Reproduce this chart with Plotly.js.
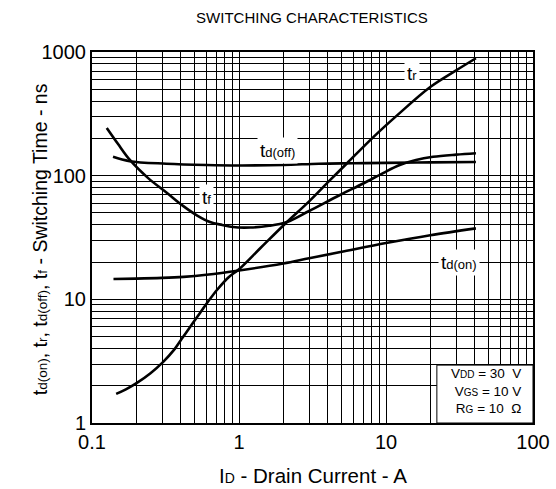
<!DOCTYPE html>
<html><head><meta charset="utf-8">
<script src="https://cdn.plot.ly/plotly-3.0.1.min.js"></script>
<style>body{margin:0;background:#fff}#c{width:556px;height:489px}</style>
</head><body><div id="c"></div>
<script>
// Data
const tdOnX  = [0.14, 0.2, 0.3, 0.42, 0.6, 1, 2, 3, 4.9, 10, 20, 40.9];
const tdOnY  = [14.6, 14.7, 14.9, 15.2, 15.8, 17.1, 19.5, 21.5, 24.1, 28.5, 33, 37.5];
const trX    = [0.146, 0.17, 0.202, 0.25, 0.304, 0.36, 0.416, 0.48, 0.543, 0.62, 0.708, 0.85, 1, 1.4, 2.12, 3, 4.16, 5.43, 8.2, 12, 20, 30, 40.9];
const trY    = [1.72, 1.87, 2.11, 2.53, 3.11, 3.88, 4.96, 6.31, 7.75, 9.68, 11.9, 15.1, 17.5, 26, 42.2, 62, 92, 126, 205, 310, 521, 710, 890];
const tdOffX = [0.139, 0.18, 0.32, 0.6, 1, 2, 3.5, 6, 10, 20, 40.9];
const tdOffY = [142, 131, 125, 122, 121, 122, 125, 126, 127, 128, 129];
const tfX    = [0.126, 0.15, 0.181, 0.24, 0.324, 0.416, 0.52, 0.635, 0.77, 0.91, 1.19, 1.6, 2.12, 3, 4.86, 7, 9.55, 12.4, 16, 20.9, 30, 40.9];
const tfY    = [243, 181, 134, 96, 72.4, 57, 47.6, 42.2, 39.9, 38.4, 38.1, 39.3, 42.2, 51.8, 69.8, 86.4, 105, 122, 134, 142, 148, 152];
const xTickVals = [0.1, 1, 10, 100];
const xTickText = ['0.1', '1', '10', '100'];
const yTickVals = [1, 10, 100, 1000];
const yTickText = ['1', '10', '100', '1000'];

const line = {color: '#000', width: 2.6, shape: 'spline', smoothing: 1};
const mk = (x, y) => ({x, y, type: 'scatter', mode: 'lines', line, hoverinfo: 'skip'});
const data = [mk(tdOnX, tdOnY), mk(trX, trY), mk(tdOffX, tdOffY), mk(tfX, tfY)];

const F = 'Liberation Sans, Arial, sans-serif';
// small baseline-aligned index text, as in the reference
const s = (t, px) => '<span style="font-size:' + px + 'px">' + t + '</span>';
const axisCommon = {
  type: 'log', showline: true, mirror: true, linecolor: '#000', linewidth: 2,
  showgrid: true, gridcolor: '#000', gridwidth: 1, ticks: '', zeroline: false,
  tickfont: {family: F, size: 20, color: '#000'},
  minor: {dtick: 'D1', showgrid: true, gridcolor: '#000', gridwidth: 1, ticks: ''}
};
const lab = (text, x, y) => ({text, x: Math.log10(x), y: Math.log10(y), xref: 'x', yref: 'y', showarrow: false,
  font: {family: F, size: 19, color: '#000'}, bgcolor: '#fff', borderpad: 2});

const layout = {
  width: 556, height: 489,
  margin: {l: 92, r: 23, t: 52, b: 66},
  paper_bgcolor: '#fff', plot_bgcolor: '#fff', showlegend: false,
  title: {text: 'SWITCHING CHARACTERISTICS', x: 0.561, xanchor: 'center', y: 0.963, yanchor: 'middle',
    font: {family: F, size: 15, color: '#000'}},
  xaxis: Object.assign({}, axisCommon, {range: [-1, 2], tickvals: xTickVals, ticktext: xTickText}),
  yaxis: Object.assign({}, axisCommon, {range: [0, 3], tickvals: yTickVals, ticktext: yTickText}),
  shapes: [{type: 'rect', xref: 'paper', yref: 'paper', x0: 0.782, x1: 1, y0: 0, y1: 0.156,
    fillcolor: '#fff', line: {color: '#000', width: 1}, layer: 'above'}],
  annotations: [
    {text: 't' + s('d(on)', 13.5) + ', t' + s('r', 13.5) + ', t' + s('d(off)', 13.5) + ', t' + s('f', 13.5) + ' - Switching Time - ns',
      xref: 'paper', yref: 'paper', x: -0.116, y: 0.495, xanchor: 'center', yanchor: 'middle',
      textangle: -90, showarrow: false, font: {family: F, size: 19.5, color: '#000'}},
    {text: 'I' + s('D', 14) + ' - Drain Current - A', xref: 'paper', yref: 'paper', x: 0.5, y: -0.142,
      xanchor: 'center', yanchor: 'middle', showarrow: false, font: {family: F, size: 20.5, color: '#000'}},
    lab('t' + s('r', 13), 15.0, 676),
    lab('t' + s('d(off)', 13), 1.84, 161),
    lab('t' + s('f', 13), 0.6, 67),
    lab('t' + s('d(on)', 13), 31.4, 20.0),
    {text: 'V' + s('DD', 10) + ' = 30  V<br>V' + s('GS', 10) + ' = 10 V<br>R' + s('G', 10) + ' = 10  Ω',
      xref: 'paper', yref: 'paper', x: 0.978, y: 0.014, xanchor: 'right', yanchor: 'bottom', align: 'right',
      showarrow: false, font: {family: F, size: 13.5, color: '#000'}}
  ]
};
Plotly.newPlot('c', data, layout, {displayModeBar: false, staticPlot: true});
</script></body></html>
